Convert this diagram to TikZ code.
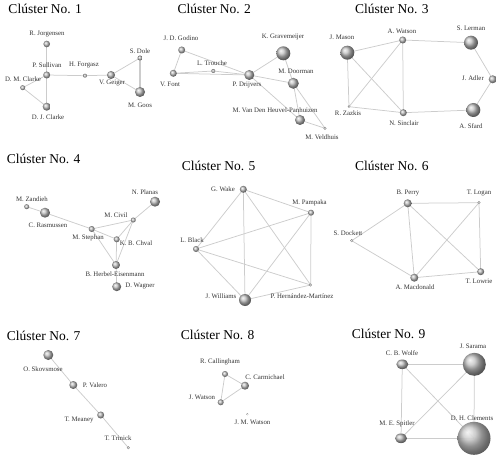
\documentclass[tikz,border=0pt]{standalone}
\usepackage{fontspec}
\setmainfont{Liberation Serif}
\usetikzlibrary{shapes.geometric}
\begin{document}
\begin{tikzpicture}[x=1pt,y=-1pt,
  sph/.style={circle, shading=ball, ball color=gray!50, inner sep=0pt, minimum size=#1},
  sphe/.style={ellipse, shading=ball, ball color=gray!50, inner sep=0pt, minimum width=#1, minimum height=0.8*#1},
  lab/.style={font=\fontsize{6.8}{8}\selectfont, text=black!80, inner sep=0pt},
  ttl/.style={font=\fontsize{13.5}{15}\selectfont, anchor=base west, inner sep=0pt},
  edge/.style={draw=black!20, line width=0.75pt},
  thk/.style={draw=black!20, line width=1.6pt}]
\useasboundingbox (0,0) rectangle (500,457);
% node positions
\coordinate (rj) at (46.7,44);
\coordinate (ps) at (46.7,75);
\coordinate (hf) at (85,75.7);
\coordinate (vg) at (111,75);
\coordinate (sd) at (140,58);
\coordinate (mg) at (140,92);
\coordinate (dmc) at (22.7,87.7);
\coordinate (djc) at (46.7,106.7);
\coordinate (jdg) at (181.7,50);
\coordinate (vf) at (173.3,73.3);
\coordinate (lt) at (213.3,71);
\coordinate (pd) at (249.3,75);
\coordinate (kg) at (283.3,53.3);
\coordinate (md) at (293.3,83.3);
\coordinate (mvh) at (300,120);
\coordinate (mv) at (325,128.3);
\coordinate (jm) at (347.3,52.7);
\coordinate (aw) at (402.7,40);
\coordinate (sl) at (471,42.7);
\coordinate (ja) at (492.7,79.3);
\coordinate (as) at (473.3,110);
\coordinate (ns) at (403.3,112.7);
\coordinate (rz) at (349,106.7);
\coordinate (mz) at (26.7,206.7);
\coordinate (cr) at (45,212.7);
\coordinate (mc) at (133.3,220);
\coordinate (np) at (155,201.7);
\coordinate (ms) at (91.7,229);
\coordinate (kbc) at (116.7,239.3);
\coordinate (bhe) at (116,265);
\coordinate (dw) at (116.7,286.7);
\coordinate (gw) at (243.3,189.3);
\coordinate (mp) at (311,212.7);
\coordinate (lb) at (196,249);
\coordinate (jw) at (245,300);
\coordinate (phm) at (310.7,285);
\coordinate (bp) at (407.7,203.3);
\coordinate (tl) at (479,202.7);
\coordinate (sdk) at (351.7,240.7);
\coordinate (am) at (414.3,277.7);
\coordinate (tlw) at (480.7,271.7);
\coordinate (os) at (48.3,355);
\coordinate (pv) at (73.3,385);
\coordinate (tm) at (100.7,415);
\coordinate (tt) at (128.3,447.7);
\coordinate (rc) at (225,374);
\coordinate (cc) at (245,385.7);
\coordinate (jwt) at (220.7,402.3);
\coordinate (jmw) at (247.3,414.3);
\coordinate (cbw) at (402.3,364.3);
\coordinate (js) at (474.3,364.3);
\coordinate (mes) at (401,438.3);
\coordinate (dhc) at (474,438.3);
% edges
\draw[edge] (rj) -- (ps);
\draw[edge] (ps) -- (hf);
\draw[edge] (hf) -- (vg);
\draw[edge] (vg) -- (sd);
\draw[edge] (vg) -- (mg);
\draw[thk] (sd) -- (mg);
\draw[edge] (ps) -- (dmc);
\draw[edge] (ps) -- (djc);
\draw[edge] (dmc) -- (djc);
\draw[edge] (jdg) -- (vf);
\draw[edge] (jdg) -- (pd);
\draw[edge] (vf) -- (lt);
\draw[edge] (lt) -- (pd);
\draw[edge] (vf) -- (pd);
\draw[edge] (pd) -- (kg);
\draw[edge] (pd) -- (md);
\draw[edge] (pd) -- (mvh);
\draw[edge] (kg) -- (md);
\draw[edge] (md) -- (mvh);
\draw[edge] (md) -- (mv);
\draw[edge] (mvh) -- (mv);
\draw[edge] (jm) -- (aw);
\draw[edge] (jm) -- (rz);
\draw[edge] (jm) -- (ns);
\draw[edge] (aw) -- (rz);
\draw[edge] (aw) -- (ns);
\draw[edge] (aw) -- (sl);
\draw[edge] (rz) -- (ns);
\draw[edge] (ns) -- (as);
\draw[edge] (sl) -- (ja);
\draw[edge] (ja) -- (as);
\draw[edge] (mz) -- (cr);
\draw[edge] (cr) -- (ms);
\draw[edge] (ms) -- (mc);
\draw[edge] (mc) -- (np);
\draw[edge] (mc) -- (kbc);
\draw[edge] (mc) -- (bhe);
\draw[edge] (ms) -- (kbc);
\draw[edge] (ms) -- (bhe);
\draw[edge] (kbc) -- (bhe);
\draw[edge] (bhe) -- (dw);
\draw[edge] (gw) -- (mp);
\draw[edge] (gw) -- (lb);
\draw[edge] (gw) -- (jw);
\draw[edge] (gw) -- (phm);
\draw[edge] (mp) -- (lb);
\draw[edge] (mp) -- (jw);
\draw[edge] (mp) -- (phm);
\draw[edge] (lb) -- (jw);
\draw[edge] (lb) -- (phm);
\draw[edge] (jw) -- (phm);
\draw[edge] (bp) -- (tl);
\draw[edge] (bp) -- (sdk);
\draw[edge] (bp) -- (am);
\draw[edge] (bp) -- (tlw);
\draw[edge] (tl) -- (am);
\draw[edge] (tl) -- (tlw);
\draw[edge] (sdk) -- (am);
\draw[edge] (am) -- (tlw);
\draw[edge] (os) -- (pv);
\draw[edge] (pv) -- (tm);
\draw[edge] (tm) -- (tt);
\draw[edge] (rc) -- (cc);
\draw[edge] (rc) -- (jwt);
\draw[edge] (cc) -- (jwt);
\draw[edge] (cbw) -- (js);
\draw[edge] (cbw) -- (mes);
\draw[edge] (cbw) -- (dhc);
\draw[edge] (js) -- (mes);
\draw[edge] (js) -- (dhc);
\draw[edge] (mes) -- (dhc);
% titles
\node[ttl] (t1) at (8.3,14) {Clúster No. 1};
\node[ttl] (t2) at (177.3,14) {Clúster No. 2};
\node[ttl] (t3) at (355,14) {Clúster No. 3};
\node[ttl] (t4) at (6.7,164) {Clúster No. 4};
\node[ttl] (t5) at (181.7,170.5) {Clúster No. 5};
\node[ttl] (t6) at (355,170.5) {Clúster No. 6};
\node[ttl] (t7) at (6.7,340) {Clúster No. 7};
\node[ttl] (t8) at (180.7,339) {Clúster No. 8};
\node[ttl] (t9) at (351.7,338.3) {Clúster No. 9};
% spheres
\node[sph=6.6] (nrj) at (rj) {};
\node[sph=7] (nps) at (ps) {};
\node[sph=4] (nhf) at (hf) {};
\node[sph=8] (nvg) at (vg) {};
\node[sph=5] (nsd) at (sd) {};
\node[sph=10] (nmg) at (mg) {};
\node[sph=5] (ndmc) at (dmc) {};
\node[sph=8] (ndjc) at (djc) {};
\node[sph=7] (njdg) at (jdg) {};
\node[sph=7] (nvf) at (vf) {};
\node[sph=4] (nlt) at (lt) {};
\node[sph=10] (npd) at (pd) {};
\node[sph=14] (nkg) at (kg) {};
\node[sph=11] (nmd) at (md) {};
\node[sph=10] (nmvh) at (mvh) {};
\node[sph=3] (nmv) at (mv) {};
\node[sph=14] (njm) at (jm) {};
\node[sph=7] (naw) at (aw) {};
\node[sph=14] (nsl) at (sl) {};
\node[sph=8] (nja) at (ja) {};
\node[sph=14] (nas) at (as) {};
\node[sph=7] (nns) at (ns) {};
\node[sph=2.5] (nrz) at (rz) {};
\node[sph=5] (nmz) at (mz) {};
\node[sph=10] (ncr) at (cr) {};
\node[sph=5] (nmc) at (mc) {};
\node[sph=10] (nnp) at (np) {};
\node[sph=6] (nms) at (ms) {};
\node[sph=6] (nkbc) at (kbc) {};
\node[sph=8] (nbhe) at (bhe) {};
\node[sph=9] (ndw) at (dw) {};
\node[sph=7] (ngw) at (gw) {};
\node[sph=6] (nmp) at (mp) {};
\node[sph=6] (nlb) at (lb) {};
\node[sph=12] (njw) at (jw) {};
\node[sph=3] (nphm) at (phm) {};
\node[sph=8] (nbp) at (bp) {};
\node[sph=3] (ntl) at (tl) {};
\node[sph=3] (nsdk) at (sdk) {};
\node[sph=8] (nam) at (am) {};
\node[sph=7] (ntlw) at (tlw) {};
\node[sph=10] (nos) at (os) {};
\node[sph=8] (npv) at (pv) {};
\node[sph=7] (ntm) at (tm) {};
\node[sph=3] (ntt) at (tt) {};
\node[sph=6] (nrc) at (rc) {};
\node[sph=8] (ncc) at (cc) {};
\node[sph=6] (njwt) at (jwt) {};
\node[sph=2] (njmw) at (jmw) {};
\node[sphe=12] (ncbw) at (cbw) {};
\node[sph=23] (njs) at (js) {};
\node[sphe=12] (nmes) at (mes) {};
\node[sph=33, opacity=0.92] (ndhc) at (dhc) {};
% labels
\node[lab] (lrj) at (47,34) {R. Jorgensen};
\node[lab] (lps) at (47,65) {P. Sullivan};
\node[lab] (lhf) at (84,65) {H. Forgasz};
\node[lab] (lvg) at (112,83) {V. Geiger};
\node[lab] (lsd) at (140,51.5) {S. Dole};
\node[lab] (lmg) at (140,105) {M. Goos};
\node[lab] (ldmc) at (23,79) {D. M. Clarke};
\node[lab] (ldjc) at (48,117) {D. J. Clarke};
\node[lab] (ljdg) at (181,38) {J. D. Godino};
\node[lab] (lvf) at (170,84) {V. Font};
\node[lab] (llt) at (212,63) {L. Trouche};
\node[lab] (lpd) at (247,85) {P. Drijvers};
\node[lab] (lkg) at (283,37) {K. Gravemeijer};
\node[lab] (lmd) at (296,71.7) {M. Doorman};
\node[lab] (lmvh) at (275,110) {M. Van Den Heuvel-Panhuizen};
\node[lab] (lmv) at (322,136.7) {M. Veldhuis};
\node[lab] (ljm) at (342,37) {J. Mason};
\node[lab] (law) at (402,31) {A. Watson};
\node[lab] (lsl) at (471,28) {S. Lerman};
\node[lab] (lja) at (473,78) {J. Adler};
\node[lab] (las) at (471,126) {A. Sfard};
\node[lab] (lns) at (404,123) {N. Sinclair};
\node[lab] (lrz) at (348,113) {R. Zazkis};
\node[lab] (lmz) at (32,199) {M. Zandieh};
\node[lab] (lcr) at (48,225) {C. Rasmussen};
\node[lab] (lmc) at (116,215) {M. Civil};
\node[lab] (lnp) at (145,191.7) {N. Planas};
\node[lab] (lms) at (88,237.7) {M. Stephan};
\node[lab] (lkbc) at (136,243) {K. B. Chval};
\node[lab] (lbhe) at (115,274) {B. Herbel-Eisenmann};
\node[lab] (ldw) at (140,286) {D. Wagner};
\node[lab] (lgw) at (223,189) {G. Wake};
\node[lab] (lmp) at (309.5,202.7) {M. Pampaka};
\node[lab] (llb) at (192,240) {L. Black};
\node[lab] (ljw) at (221,295.7) {J. Williams};
\node[lab] (lphm) at (302,295.7) {P. Hernández-Martínez};
\node[lab] (lbp) at (408,192.7) {B. Perry};
\node[lab] (ltl) at (479,192.7) {T. Logan};
\node[lab] (lsdk) at (348,233) {S. Dockett};
\node[lab] (lam) at (415,286.7) {A. Macdonald};
\node[lab] (ltlw) at (479,281.7) {T. Lowrie};
\node[lab] (los) at (43,369) {O. Skovsmose};
\node[lab] (lpv) at (95,385) {P. Valero};
\node[lab] (ltm) at (79,420) {T. Meaney};
\node[lab] (ltt) at (118,438) {T. Trinick};
\node[lab] (lrc) at (220,362) {R. Callingham};
\node[lab] (lcc) at (265,377) {C. Carmichael};
\node[lab] (ljwt) at (202,397) {J. Watson};
\node[lab] (ljmw) at (252.5,422.7) {J. M. Watson};
\node[lab] (lcbw) at (402,353) {C. B. Wolfe};
\node[lab] (ljs) at (473,346.7) {J. Sarama};
\node[lab] (lmes) at (397,424.3) {M. E. Spitler};
\node[lab] (ldhc) at (472,417.7) {D. H. Clements};
\end{tikzpicture}
\end{document}
